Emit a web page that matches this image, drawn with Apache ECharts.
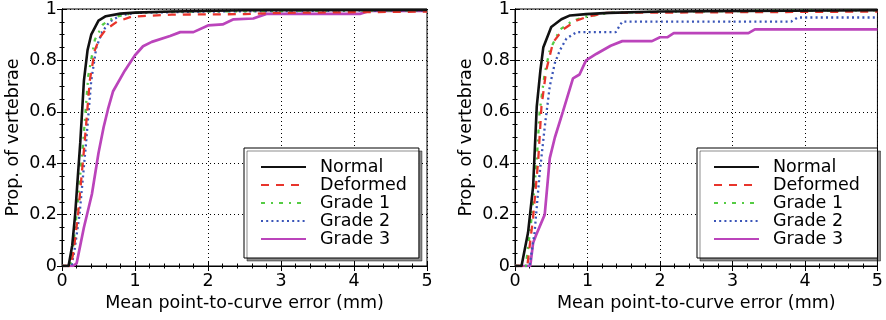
<!DOCTYPE html>
<html>
<head>
<meta charset="utf-8">
<script src="https://cdn.jsdelivr.net/npm/echarts@6/dist/echarts.min.js"></script>
<style>
html,body{margin:0;padding:0;background:#fff;}
#chart{width:886px;height:320px;}
</style>
</head>
<body>
<div id="chart"></div>
<script>
// ---- Data (x = mean point-to-curve error in mm, y = proportion) ----
var seriesNames = ['Normal', 'Deformed', 'Grade 1', 'Grade 2', 'Grade 3'];
var xTicks = [0, 1, 2, 3, 4, 5];
var yTicks = [0, 0.2, 0.4, 0.6, 0.8, 1];

// Left panel
var leftNormal = [[0,0],[0.09,0],[0.14,0.08],[0.18,0.2],[0.25,0.48],[0.3,0.72],[0.35,0.84],[0.4,0.9],[0.5,0.955],[0.6,0.972],[0.8,0.982],[1.0,0.986],[1.5,0.99],[2.5,0.995],[5,0.996]];
var leftDeformed = [[0,0],[0.12,0],[0.16,0.06],[0.22,0.2],[0.31,0.48],[0.38,0.72],[0.45,0.84],[0.52,0.89],[0.6,0.92],[0.75,0.95],[0.95,0.97],[1.5,0.978],[2.5,0.98],[3,0.985],[5,0.99]];
var leftGrade1 = [[0,0],[0.11,0],[0.15,0.07],[0.2,0.2],[0.29,0.48],[0.36,0.74],[0.45,0.88],[0.56,0.94],[0.73,0.97],[1.0,0.985],[1.5,0.99],[5,0.995]];
var leftGrade2 = [[0,0],[0.13,0],[0.17,0.06],[0.24,0.2],[0.33,0.48],[0.4,0.72],[0.47,0.85],[0.55,0.91],[0.65,0.95],[0.8,0.975],[1.0,0.985],[2,0.99],[5,0.995]];
var leftGrade3 = [[0,0],[0.15,0],[0.2,0.01],[0.3,0.15],[0.41,0.28],[0.5,0.44],[0.57,0.54],[0.63,0.61],[0.7,0.68],[0.86,0.76],[1.0,0.82],[1.11,0.855],[1.23,0.872],[1.48,0.895],[1.62,0.91],[1.8,0.91],[2.0,0.936],[2.2,0.94],[2.35,0.96],[2.62,0.963],[2.8,0.981],[4.08,0.981],[4.22,0.993],[5,0.993]];

// Right panel
var rightNormal = [[0,0],[0.09,0],[0.18,0.13],[0.25,0.31],[0.3,0.62],[0.35,0.76],[0.39,0.85],[0.5,0.93],[0.64,0.96],[0.76,0.975],[0.98,0.98],[1.3,0.985],[2,0.99],[5,0.995]];
var rightDeformed = [[0,0],[0.17,0],[0.25,0.19],[0.32,0.41],[0.365,0.62],[0.43,0.76],[0.525,0.87],[0.66,0.92],[0.845,0.955],[1.0,0.97],[1.26,0.985],[5,0.99]];
var rightGrade1 = [[0,0],[0.15,0],[0.23,0.19],[0.3,0.41],[0.34,0.6],[0.41,0.75],[0.48,0.84],[0.62,0.92],[0.8,0.955],[0.98,0.97],[1.3,0.985],[2,0.99],[5,0.995]];
var rightGrade2 = [[0,0],[0.2,0],[0.27,0.13],[0.34,0.36],[0.41,0.54],[0.48,0.7],[0.55,0.79],[0.62,0.84],[0.71,0.885],[0.85,0.91],[1.39,0.91],[1.48,0.951],[3.81,0.951],[3.9,0.967],[5,0.967]];
var rightGrade3 = [[0,0],[0.21,0],[0.25,0.09],[0.29,0.12],[0.41,0.2],[0.48,0.42],[0.55,0.5],[0.66,0.6],[0.8,0.73],[0.89,0.745],[0.98,0.8],[1.12,0.825],[1.32,0.857],[1.48,0.875],[1.89,0.875],[2.0,0.89],[2.1,0.89],[2.19,0.906],[3.22,0.906],[3.31,0.921],[5,0.921]];

var leftData = [leftNormal, leftDeformed, leftGrade1, leftGrade2, leftGrade3];
var rightData = [rightNormal, rightDeformed, rightGrade1, rightGrade2, rightGrade3];

// ---- Styles ----
var FONT = 'DejaVu Sans';
var styles = [
  {color:'#111111', width:2.6, type:'solid'},
  {color:'#e8352c', width:2.3, type:[8,7]},
  {color:'#55cc44', width:2.3, type:[4,6,2,6]},
  {color:'#3a55b8', width:2.3, type:[2,3.2]},
  {color:'#bb44bb', width:2.7, type:'solid'}
];

var gridLefts = [62, 515];
var grids = gridLefts.map(function(l){
  return {left:l, top:9, width:365, height:257, show:true, borderColor:'#000', borderWidth:1, backgroundColor:'transparent'};
});

var xAxes = [], yAxes = [], series = [], legends = [];
gridLefts.forEach(function(l, gi){
  xAxes.push({
    type:'value', gridIndex:gi, min:0, max:5, interval:1, position:'bottom',
    name:'Mean point-to-curve error (mm)', nameLocation:'middle', nameGap:26,
    nameTextStyle:{fontFamily:FONT, fontSize:17.5, color:'#000'},
    axisLine:{show:true, lineStyle:{color:'#000', width:1}},
    axisTick:{show:true, inside:true, length:5, lineStyle:{color:'#000'}},
    minorTick:{show:true, splitNumber:5, length:2.5, lineStyle:{color:'#000'}},
    axisLabel:{fontFamily:FONT, fontSize:17.5, color:'#000', margin:6,
      formatter:function(v){ return xTicks.indexOf(v) >= 0 ? String(v) : ''; }},
    splitLine:{show:true, lineStyle:{color:'#000', width:1, type:[1,3]}}
  });
  xAxes.push({
    type:'value', gridIndex:gi, min:0, max:5, interval:1, position:'top',
    axisLine:{show:true, lineStyle:{color:'#000', width:1}},
    axisTick:{show:true, inside:true, length:5, lineStyle:{color:'#000'}},
    minorTick:{show:true, splitNumber:5, length:2.5, lineStyle:{color:'#000'}},
    axisLabel:{show:false}, splitLine:{show:false}
  });
  yAxes.push({
    type:'value', gridIndex:gi, min:0, max:1, interval:0.2, position:'left',
    name:'Prop. of vertebrae', nameLocation:'middle', nameGap:40,
    nameTextStyle:{fontFamily:FONT, fontSize:17.5, color:'#000'},
    axisLine:{show:true, lineStyle:{color:'#000', width:1}},
    axisTick:{show:true, inside:true, length:5, lineStyle:{color:'#000'}},
    minorTick:{show:true, splitNumber:4, length:2.5, lineStyle:{color:'#000'}},
    axisLabel:{fontFamily:FONT, fontSize:17.5, color:'#000', margin:5,
      formatter:function(v){ return String(Math.round(v*10)/10); }},
    splitLine:{show:true, lineStyle:{color:'#000', width:1, type:[1,3]}}
  });
  yAxes.push({
    type:'value', gridIndex:gi, min:0, max:1, interval:0.2, position:'right',
    axisLine:{show:true, lineStyle:{color:'#000', width:1}},
    axisTick:{show:true, inside:true, length:5, lineStyle:{color:'#000'}},
    minorTick:{show:true, splitNumber:4, length:2.5, lineStyle:{color:'#000'}},
    axisLabel:{show:false}, splitLine:{show:false}
  });
  var dataSet = gi === 0 ? leftData : rightData;
  seriesNames.forEach(function(name, si){
    series.push({
      name: name + (gi === 1 ? ' ' : ''),
      type:'line', xAxisIndex:gi*2, yAxisIndex:gi*2,
      data: dataSet[si], symbol:'none', showSymbol:false, animation:false,
      z: 10 - si,
      lineStyle:{color:styles[si].color, width:styles[si].width, type:styles[si].type},
      itemStyle:{color:styles[si].color}
    });
  });
  legends.push({
    orient:'vertical', left:l + 182, top:148,
    data: seriesNames.map(function(n){ return n + (gi === 1 ? ' ' : ''); }),
    itemWidth:45, itemHeight:14, itemGap:0,
    padding:[10,12,10,16],
    backgroundColor:'#fff', borderColor:'#000', borderWidth:1, borderRadius:0,
    shadowColor:'rgba(0,0,0,0.45)', shadowBlur:0, shadowOffsetX:3, shadowOffsetY:3,
    selectedMode:false,
    itemStyle:{opacity:0},
    textStyle:{fontFamily:FONT, fontSize:17.5, color:'#000', lineHeight:18, padding:[0,0,0,9]}
  });
});

var chart = echarts.init(document.getElementById('chart'), null, {renderer:'canvas'});
chart.setOption({
  animation:false,
  backgroundColor:'#fff',
  grid: grids,
  xAxis: xAxes,
  yAxis: yAxes,
  legend: legends,
  series: series
});
</script>
</body>
</html>
